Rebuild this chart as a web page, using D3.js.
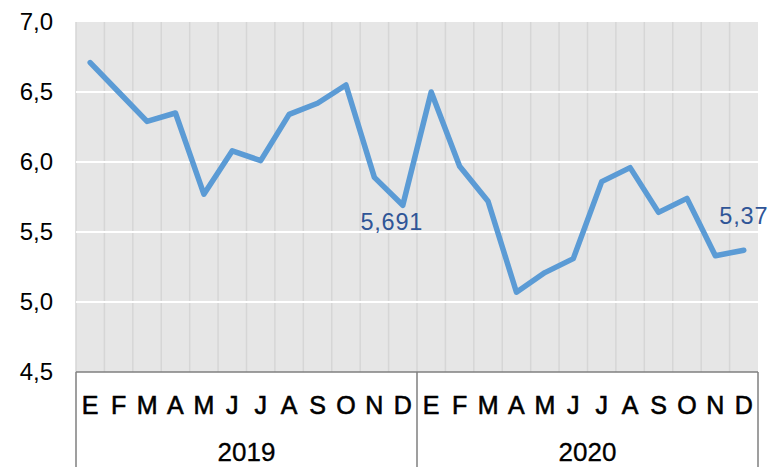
<!DOCTYPE html>
<html>
<head>
<meta charset="utf-8">
<script src="https://cdn.jsdelivr.net/npm/d3@7"></script>
<style>
  html, body { margin: 0; padding: 0; background: #ffffff; }
  svg { display: block; }
  text { font-family: "Liberation Sans", Arial, sans-serif; }
</style>
</head>
<body>
<svg id="chart" width="769" height="467"></svg>
<script>
// ---- data ----
const months = ["E","F","M","A","M","J","J","A","S","O","N","D"];
const years = ["2019","2020"];
const values2019 = [6.71, 6.50, 6.29, 6.35, 5.77, 6.08, 6.01, 6.34, 6.42, 6.55, 5.89, 5.691];
const values2020 = [6.50, 5.97, 5.72, 5.07, 5.21, 5.31, 5.86, 5.96, 5.64, 5.74, 5.33, 5.37];
const yTicks = [4.5, 5.0, 5.5, 6.0, 6.5, 7.0];
const labelled = [{year: "2019", month: 11, text: "5,691"}, {year: "2020", month: 11, text: "5,37"}];

// ---- build rows ----
const seriesByYear = {"2019": values2019, "2020": values2020};
const rows = [];
years.forEach(y => seriesByYear[y].forEach((v, i) => rows.push({key: y + "-" + i, year: y, month: i, value: v})));

const svg = d3.select("#chart");
const margin = {left: 76, right: 11, top: 22, bottom: 95};
const W = 769, H = 467;
const x0 = margin.left, x1 = W - margin.right, yTop = margin.top, yBot = H - margin.bottom;

const x = d3.scaleBand().domain(rows.map(d => d.key)).range([x0, x1]).paddingInner(0).paddingOuter(0);
const xYear = d3.scaleBand().domain(years).range([x0, x1]);
const y = d3.scaleLinear().domain([4.5, 7.0]).range([yBot, yTop]);

const locale = d3.formatLocale({decimal: ",", thousands: ".", grouping: [3], currency: ["", "€"]});
const fmt = locale.format(".1f");

// plot background
svg.append("rect").attr("x", x0).attr("y", yTop).attr("width", x1 - x0).attr("height", yBot - yTop).attr("fill", "#e6e6e6");

// vertical gridlines at band boundaries
const bounds = rows.map(d => x(d.key));
svg.append("g").selectAll("line").data(bounds).join("line")
  .attr("x1", d => d).attr("x2", d => d).attr("y1", yTop).attr("y2", yBot)
  .attr("stroke", "#d6d6d6").attr("stroke-width", 1.5);

// horizontal white gridlines
svg.append("g").selectAll("line").data(yTicks.filter(t => t > 4.5 && t < 7.0)).join("line")
  .attr("x1", x0).attr("x2", x1).attr("y1", d => y(d)).attr("y2", d => y(d))
  .attr("stroke", "#ffffff").attr("stroke-width", 2);

// y axis
const yAxis = svg.append("g").attr("transform", `translate(${x0},0)`)
  .call(d3.axisLeft(y).tickValues(yTicks).tickSize(0).tickPadding(23).tickFormat(fmt));
yAxis.select(".domain").remove();
yAxis.selectAll("text").attr("font-size", 24).attr("fill", "#000").attr("font-family", "'Liberation Sans', Arial, sans-serif");

// line
const line = d3.line().x(d => x(d.key) + x.bandwidth() / 2).y(d => y(d.value));
svg.append("path").datum(rows).attr("d", line)
  .attr("fill", "none").attr("stroke", "#5b9bd5").attr("stroke-width", 5.5)
  .attr("stroke-linejoin", "round").attr("stroke-linecap", "round");

// data labels
labelled.forEach((l, i) => {
  const r = rows.find(d => d.year === l.year && d.month === l.month);
  svg.append("text")
    .attr("x", x(r.key) + x.bandwidth() / 2 + (i === 0 ? -11 : 0))
    .attr("y", y(r.value) + (i === 0 ? 25 : -26))
    .attr("text-anchor", "middle").attr("font-size", 23.5).attr("letter-spacing", 0.8)
    .attr("fill", "#2f5597").text(l.text);
});

// x axis (month labels)
const xAxis = svg.append("g").attr("transform", `translate(0,${yBot})`)
  .call(d3.axisBottom(x).tickSize(0).tickFormat(k => months[+k.split("-")[1]]));
xAxis.select(".domain").remove();
xAxis.selectAll("text").attr("font-size", 25).attr("fill", "#000")
  .attr("stroke", "#000").attr("stroke-width", 0.6)
  .attr("font-family", "'Liberation Sans', Arial, sans-serif")
  .attr("dy", 0).attr("y", 42);

// axis frame
svg.append("line").attr("x1", x0).attr("x2", x1).attr("y1", yBot).attr("y2", yBot)
  .attr("stroke", "#7f7f7f").attr("stroke-width", 1.5);
const seps = years.map(yr => xYear(yr)).concat([x1]);
svg.append("g").selectAll("line").data(seps).join("line")
  .attr("x1", d => d).attr("x2", d => d).attr("y1", yBot).attr("y2", H)
  .attr("stroke", "#7f7f7f").attr("stroke-width", 1.5);

// year labels
svg.append("g").selectAll("text").data(years).join("text")
  .attr("x", d => xYear(d) + xYear.bandwidth() / 2).attr("y", 461)
  .attr("text-anchor", "middle").attr("font-size", 26).attr("fill", "#000")
  .attr("stroke", "#000").attr("stroke-width", 0.3).text(d => d);
</script>
</body>
</html>
